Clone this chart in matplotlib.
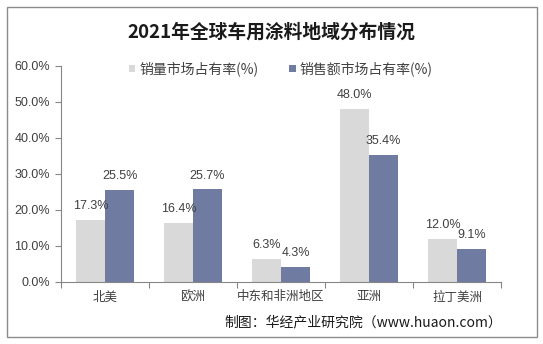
import numpy as np
import matplotlib.pyplot as plt
from matplotlib.patches import Rectangle

plt.rcParams['font.family'] = ['Noto Sans CJK SC', 'DejaVu Sans']

regions = ["北美", "欧洲", "中东和非洲地区", "亚洲", "拉丁美洲"]
volume_share = [17.3, 16.4, 6.3, 48.0, 12.0]
sales_share = [25.5, 25.7, 4.3, 35.4, 9.1]
yticks = [0, 10, 20, 30, 40, 50, 60]

gray = "#D9D9D9"
blue = "#6F7BA0"
axis_col = "#868686"

fig = plt.figure(figsize=(5.43, 3.44), dpi=100)
fig.patches.append(Rectangle((7 / 543, 7 / 344), 530 / 543, 330 / 344,
                             transform=fig.transFigure, fill=False,
                             edgecolor="#8C8C8C", linewidth=1))

ax = fig.add_axes([61 / 543, 1 - 282 / 344, 440 / 543, 216 / 344])
x = np.arange(len(regions))
w = 0.33
b1 = ax.bar(x - w / 2, volume_share, w, color=gray, label="销量市场占有率(%)")
b2 = ax.bar(x + w / 2, sales_share, w, color=blue, label="销售额市场占有率(%)")

for bars, vals in [(b1, volume_share), (b2, sales_share)]:
    for r, v in zip(bars, vals):
        ax.text(r.get_x() + r.get_width() / 2, v + 2.2, f"{v:.1f}%",
                ha="center", va="bottom", fontsize=9, color="#404040",
                family="Liberation Sans")

ax.set_xlim(-0.5, len(regions) - 0.5)
ax.set_ylim(0, 60)
ax.set_yticks(yticks)
ax.set_yticklabels([f"{t:.1f}%" for t in yticks], fontsize=9,
                   color="#404040", family="Liberation Sans")
ax.set_xticks(np.arange(len(regions) + 1) - 0.5)
ax.set_xticklabels([])
ax.set_xticks(x, minor=True)
ax.set_xticklabels(regions, minor=True, fontsize=9, color="#404040")
ax.tick_params(axis="x", which="minor", length=0, pad=6)
ax.tick_params(axis="x", which="major", length=4, color=axis_col)
ax.tick_params(axis="y", length=4, color=axis_col, pad=4)
for s in ["top", "right"]:
    ax.spines[s].set_visible(False)
for s in ["left", "bottom"]:
    ax.spines[s].set_color(axis_col)

fig.text(0.5, 1 - 32 / 344, "2021年全球车用涂料地域分布情况", ha="center",
         va="center", fontsize=13.5, fontweight="bold", color="#1a1a1a")

leg = ax.legend(loc="upper center", bbox_to_anchor=(0.5, 1.08), ncol=2,
                frameon=False, fontsize=10, handlelength=0.45, handleheight=0.45,
                columnspacing=2.2, handletextpad=0.3)
for t in leg.get_texts():
    t.set_color("#404040")

fig.text(502 / 543, 1 - 322 / 344, "制图：华经产业研究院（www.huaon.com）",
         ha="right", va="center", fontsize=10, color="#1a1a1a")

fig.savefig("out.png", dpi=100)
